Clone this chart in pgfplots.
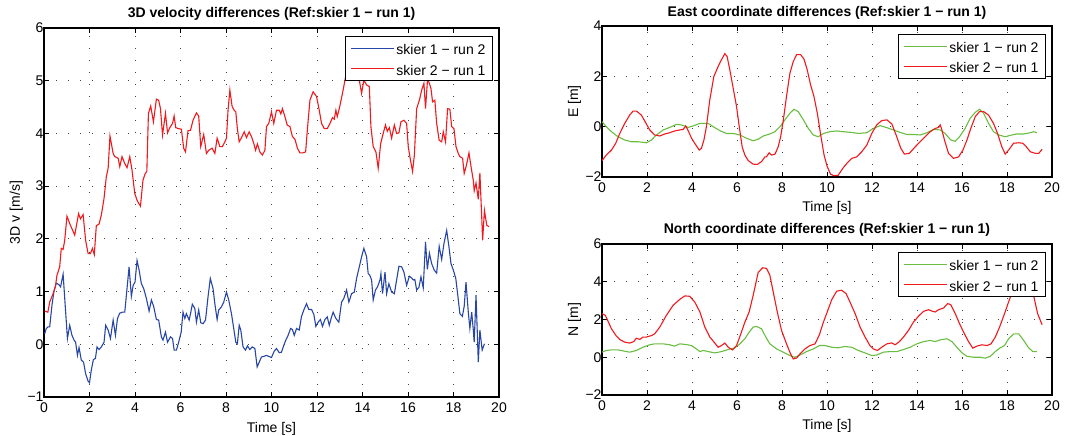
\documentclass[border=0pt]{standalone}
\usepackage{pgfplots}
\pgfplotsset{compat=1.18}
\usepackage{fontspec}
\setmainfont{Liberation Sans}
\definecolor{mblue}{RGB}{40,70,165}
\definecolor{mred}{RGB}{240,25,30}
\definecolor{mgreen}{RGB}{105,190,65}
\newcommand{\lstrut}{\rule[-5pt]{0pt}{19pt}}
\pgfplotsset{
  mstyle/.style={
    scale only axis,
    xmin=0, xmax=20,
    xtick={0,2,...,20},
    tick align=inside,
    tick pos=both,
    major tick length=5pt,
    minor tick num=0,
    /pgf/number format/assume math mode=true,
    axis line style={line width=1.2pt},
    every tick/.style={black, line width=0.8pt},
    grid=major,
    major grid style={black!75, line width=0.8pt, dash pattern=on 1pt off 11pt},
    xticklabel style={yshift=-2.5pt},
    yticklabel style={xshift=3pt},
    title style={at={(0.5,1)}, anchor=base, font=\fontsize{14}{16}\selectfont\bfseries},
    xlabel style={at={(0.5,0)}, anchor=base, yshift=-35pt},
    ylabel style={at={([xshift=-24pt]axis description cs:0,0.5)}, anchor=base, rotate=0},
    xlabel={Time [s]},
    legend style={at={(1,1)}, anchor=north east, xshift=-6pt, yshift=-8pt, draw=black, fill=white, line width=1pt, inner xsep=5pt, inner ysep=2pt, row sep=1pt, cells={anchor=west}, font=\fontsize{14}{16}\selectfont},
    legend image code/.code={\draw[#1, line width=1pt] (0pt,0pt) -- (43pt,0pt);},
    every axis plot/.append style={line width=1.1pt, mark=none},
  }
}
\begin{document}
\begin{tikzpicture}[font=\fontsize{14}{16}\selectfont]
\path[use as bounding box] (0,0) rectangle (1092pt,436pt);
% ---------------- Left: 3D velocity ----------------
\begin{axis}[mstyle, at={(44pt,39pt)}, anchor=south west, width=455pt, height=369pt,
  ymin=-1, ymax=6, ytick={-1,0,1,2,3,4,5,6}, yticklabels={−1,0,1,2,3,4,5,6},
  title={3D velocity differences (Ref:skier 1 − run 1)}, title style={yshift=5pt},
  ylabel={3D v [m/s]}]
\addplot[color=mblue] coordinates {
(0.03,0.2)(0.1,0.3)(0.18,0.33)(0.25,0.33)(0.35,0.74)(0.44,1.01)(0.54,1.16)(0.66,1.13)(0.73,1.09)(0.84,1.33)
(1.03,0.11)(1.13,0.36)(1.23,0.17)(1.32,0.08)(1.39,0.04)(1.47,-0.21)(1.54,-0.06)(1.64,-0.3)(1.74,-0.34)(1.83,-0.56)
(1.94,-0.7)(2.0,-0.73)(2.08,-0.49)(2.17,-0.29)(2.26,-0.27)(2.33,-0.05)(2.42,-0.1)(2.52,-0.05)(2.64,0.04)(2.71,0.36)
(2.82,0.27)(2.92,0.11)(3.04,0.46)(3.14,0.17)(3.23,0.49)(3.33,0.59)(3.45,0.61)(3.55,0.61)(3.65,1.06)(3.74,1.47)
(3.84,0.91)(3.92,1.12)(4.0,1.18)(4.09,1.59)(4.18,1.41)(4.28,1.15)(4.38,1.06)(4.5,0.87)(4.62,0.63)(4.72,0.84)
(4.82,0.72)(4.94,0.47)(5.04,0.46)(5.16,0.14)(5.23,0.08)(5.34,0.23)(5.43,0.04)(5.56,0.14)(5.65,0.11)(5.72,-0.11)
(5.82,-0.11)(5.92,0.04)(6.03,0.23)(6.11,0.61)(6.19,0.49)(6.26,0.58)(6.38,0.46)(6.44,0.58)(6.52,0.76)(6.63,0.68)
(6.7,0.42)(6.8,0.65)(6.89,0.41)(6.99,0.39)(7.1,0.46)(7.21,0.9)(7.31,1.25)(7.43,1.06)(7.51,0.77)(7.61,0.47)
(7.68,0.65)(7.8,0.71)(7.9,0.8)(8.02,0.99)(8.12,0.84)(8.24,0.58)(8.34,0.3)(8.43,0.04)(8.5,0.01)(8.58,0.36)
(8.65,0.27)(8.75,-0.05)(8.86,-0.11)(8.94,-0.03)(9.05,-0.1)(9.15,-0.05)(9.27,-0.08)(9.37,-0.43)(9.46,-0.34)(9.56,-0.24)
(9.66,-0.23)(9.78,-0.21)(9.88,-0.23)(10.0,-0.25)(10.12,-0.13)(10.22,-0.08)(10.34,-0.16)(10.44,-0.15)(10.54,-0.02)(10.63,0.08)
(10.73,0.17)(10.84,0.3)(10.92,0.28)(11.0,0.17)(11.1,0.3)(11.22,0.27)(11.32,0.53)(11.42,0.65)(11.54,0.77)(11.64,0.66)
(11.76,0.66)(11.86,0.57)(11.95,0.34)(12.05,0.42)(12.15,0.47)(12.24,0.34)(12.35,0.47)(12.45,0.52)(12.54,0.36)(12.64,0.52)
(12.71,0.61)(12.83,0.49)(12.96,0.42)(13.08,0.8)(13.18,0.87)(13.3,1.03)(13.4,0.8)(13.52,0.96)(13.64,0.99)(13.74,1.25)
(13.86,1.47)(13.96,1.66)(14.06,1.82)(14.18,1.66)(14.25,1.34)(14.32,1.31)(14.4,1.22)(14.47,0.84)(14.57,1.03)(14.66,1.09)
(14.77,1.22)(14.81,1.34)(14.88,0.96)(14.99,1.37)(15.06,0.96)(15.16,1.15)(15.28,0.99)(15.4,0.96)(15.5,1.22)(15.6,1.48)
(15.72,1.47)(15.82,1.37)(15.94,1.12)(16.06,1.29)(16.16,1.26)(16.23,1.22)(16.3,1.23)(16.38,1.03)(16.48,1.08)(16.57,1.28)
(16.67,1.07)(16.77,1.94)(16.85,1.42)(16.94,1.73)(17.04,1.53)(17.15,1.41)(17.26,1.35)(17.37,1.86)(17.48,1.61)(17.58,1.91)
(17.7,2.16)(17.8,1.85)(17.89,1.53)(17.99,1.41)(18.1,1.25)(18.18,0.96)(18.28,0.58)(18.39,0.53)(18.47,0.72)(18.55,1.18)
(18.65,0.61)(18.72,0.3)(18.8,0.61)(18.87,0.27)(18.91,0.04)(18.99,0.93)(19.09,-0.34)(19.16,0.27)(19.26,-0.11)(19.36,0.01)
};
\addlegendentry{skier 1 − run 2\lstrut}
\addplot[color=mred] coordinates {
(0.03,0.63)(0.17,0.61)(0.25,0.8)(0.4,0.96)(0.5,1.09)(0.57,1.31)(0.69,1.47)(0.76,1.82)(0.84,1.8)(0.91,1.97)
(1.01,2.43)(1.13,2.29)(1.35,2.07)(1.52,2.48)(1.6,2.38)(1.72,2.46)(1.83,1.97)(1.94,1.72)(2.04,1.72)(2.13,1.82)
(2.21,1.7)(2.3,2.25)(2.42,2.28)(2.52,2.45)(2.64,2.77)(2.74,3.18)(2.82,3.34)(2.9,3.95)(3.04,3.62)(3.11,3.56)
(3.26,3.53)(3.33,3.37)(3.43,3.56)(3.55,3.43)(3.65,3.35)(3.77,3.56)(3.87,3.3)(3.99,2.86)(4.09,2.73)(4.24,2.62)
(4.35,3.11)(4.44,3.23)(4.52,3.28)(4.59,4.38)(4.69,4.52)(4.81,4.22)(4.94,4.65)(5.04,4.63)(5.12,4.47)(5.21,3.97)
(5.34,4.38)(5.43,4.01)(5.53,4.11)(5.65,4.19)(5.72,4.33)(5.79,4.11)(5.92,4.09)(6.04,4.08)(6.14,3.72)(6.22,3.65)
(6.33,4.05)(6.44,4.06)(6.55,4.25)(6.7,4.39)(6.8,4.33)(6.89,3.75)(7.02,3.98)(7.14,3.62)(7.24,3.68)(7.39,3.72)
(7.51,3.62)(7.61,3.91)(7.73,3.75)(7.84,3.75)(7.95,3.84)(8.02,3.91)(8.09,4.44)(8.17,4.82)(8.27,4.51)(8.36,4.44)
(8.43,4.41)(8.5,4.09)(8.58,3.84)(8.68,3.92)(8.8,4.03)(8.9,3.92)(9.02,4.03)(9.12,3.94)(9.22,3.81)(9.3,3.68)
(9.38,3.8)(9.49,3.65)(9.6,3.59)(9.71,3.68)(9.78,4.13)(9.88,4.19)(10.0,4.41)(10.1,4.19)(10.22,4.44)(10.34,4.44)
(10.41,4.37)(10.48,4.47)(10.59,4.32)(10.69,4.16)(10.81,4.13)(10.92,3.94)(11.03,3.89)(11.14,3.72)(11.25,3.63)(11.36,3.63)
(11.5,3.65)(11.58,4.09)(11.69,4.63)(11.83,4.79)(11.98,4.7)(12.1,4.44)(12.2,4.19)(12.32,4.09)(12.45,4.09)(12.57,4.19)
(12.68,4.3)(12.76,4.27)(12.83,4.44)(12.89,4.32)(13.0,4.51)(13.12,4.76)(13.23,5.01)(13.35,5.3)(13.5,5.5)(13.65,5.4)
(13.78,5.2)(13.86,5.01)(13.96,4.76)(14.06,5.01)(14.18,4.92)(14.3,4.89)(14.37,4.13)(14.47,3.75)(14.59,3.65)(14.69,3.34)
(14.8,3.81)(14.91,4.0)(15.01,4.16)(15.09,4.04)(15.18,4.11)(15.28,3.91)(15.4,4.16)(15.5,4.0)(15.6,4.01)(15.69,4.22)
(15.82,4.25)(15.94,4.19)(16.01,3.75)(16.11,3.49)(16.2,3.28)(16.28,3.59)(16.38,4.47)(16.5,4.63)(16.6,4.82)(16.7,4.95)
(16.77,4.47)(16.86,5.03)(16.94,4.95)(17.01,4.85)(17.08,4.6)(17.18,4.63)(17.26,4.19)(17.37,3.87)(17.48,3.84)(17.55,4.03)
(17.65,3.84)(17.74,4.47)(17.84,4.46)(17.92,4.13)(18.02,4.09)(18.11,3.75)(18.21,3.62)(18.28,3.56)(18.4,3.53)(18.47,3.24)
(18.57,3.4)(18.68,3.63)(18.77,3.37)(18.87,3.11)(18.91,2.91)(18.99,3.06)(19.09,2.75)(19.16,3.25)(19.24,2.42)(19.28,1.97)
(19.36,2.54)(19.46,2.26)(19.56,2.23)
};
\addlegendentry{skier 2 − run 1\lstrut}
\end{axis}
% ---------------- Top right: East ----------------
\begin{axis}[mstyle, at={(602pt,259pt)}, anchor=south west, width=450pt, height=151pt,
  ymin=-2, ymax=4, ytick={-2,0,2,4}, yticklabels={−2,0,2,4},
  title={East coordinate differences (Ref:skier 1 − run 1)}, title style={yshift=3pt},
  ylabel={E [m]}]
\addplot[color=mgreen] coordinates {
(0,0.2)(0.19,0)(0.42,-0.2)(0.71,-0.4)(1.01,-0.53)(1.31,-0.6)(1.6,-0.6)(1.97,-0.64)(2.2,-0.53)(2.42,-0.33)
(2.72,-0.13)(3.01,-0.03)(3.31,0.09)(3.53,0.07)(3.83,-0.03)(4.05,0.03)(4.35,0.13)(4.72,0.13)(4.94,0)(5.24,-0.16)
(5.53,-0.27)(5.83,-0.27)(6.13,-0.33)(6.42,-0.46)(6.72,-0.56)(6.94,-0.5)(7.17,-0.37)(7.46,-0.29)(7.69,-0.2)(7.91,0)
(8.13,0.27)(8.35,0.53)(8.53,0.69)(8.72,0.6)(8.95,0.27)(9.17,-0.07)(9.39,-0.33)(9.61,-0.4)(9.84,-0.27)(10.13,-0.2)
(10.43,-0.17)(10.73,-0.2)(11.1,-0.23)(11.39,-0.27)(11.77,-0.24)(12.06,-0.07)(12.36,0.04)(12.66,-0.04)(12.95,-0.13)(13.25,-0.23)
(13.55,-0.31)(13.84,-0.31)(14.14,-0.33)(14.44,-0.24)(14.73,-0.11)(15.03,-0.13)(15.25,-0.27)(15.5,-0.53)(15.7,-0.58)(15.89,-0.4)
(16.14,-0.07)(16.36,0.33)(16.59,0.57)(16.78,0.69)(16.96,0.53)(17.18,0.13)(17.4,-0.2)(17.63,-0.33)(17.92,-0.4)(18.22,-0.33)
(18.44,-0.29)(18.74,-0.29)(19.04,-0.24)(19.18,-0.2)(19.33,-0.24)
};
\addlegendentry{skier 1 − run 2\lstrut}
\addplot[color=mred] coordinates {
(0,-1.35)(0.19,-1.13)(0.42,-0.93)(0.61,-0.66)(0.79,-0.27)(1.01,0.13)(1.23,0.46)(1.38,0.62)(1.53,0.62)(1.75,0.46)
(1.94,0.16)(2.12,-0.13)(2.34,-0.33)(2.57,-0.37)(2.79,-0.29)(3.01,-0.24)(3.23,-0.17)(3.46,-0.13)(3.61,-0.11)(3.72,0.03)
(3.83,-0.16)(3.98,-0.46)(4.12,-0.66)(4.32,-0.93)(4.42,-0.86)(4.53,-0.53)(4.64,0)(4.79,1.06)(4.97,1.99)(5.16,2.39)
(5.31,2.66)(5.46,2.9)(5.56,2.79)(5.68,2.26)(5.83,1.53)(5.98,0.8)(6.1,0)(6.23,-0.8)(6.35,-1.13)(6.5,-1.35)
(6.72,-1.49)(6.9,-1.5)(7.09,-1.39)(7.24,-1.2)(7.31,-1.2)(7.43,-1.04)(7.54,-1.13)(7.69,-1.09)(7.83,-0.8)(7.94,-0.4)
(8.06,0.27)(8.2,1.2)(8.35,2.12)(8.5,2.59)(8.65,2.86)(8.83,2.86)(8.98,2.68)(9.12,2.26)(9.27,1.66)(9.42,1.2)
(9.57,0.53)(9.72,-0.33)(9.87,-1.13)(10.01,-1.59)(10.16,-1.89)(10.31,-1.95)(10.5,-1.93)(10.7,-1.66)(10.88,-1.46)(11.1,-1.26)
(11.32,-1.2)(11.54,-1.0)(11.77,-0.73)(11.99,-0.27)(12.21,0.07)(12.43,0.24)(12.66,0.27)(12.88,0.11)(13.07,-0.33)(13.28,-0.86)
(13.44,-1.09)(13.66,-1.06)(13.92,-0.8)(14.14,-0.6)(14.36,-0.4)(14.59,-0.2)(14.81,-0.07)(14.96,-0.03)(15.03,0.07)(15.1,-0.11)
(15.22,-0.53)(15.4,-1.06)(15.62,-1.26)(15.85,-1.2)(16.04,-0.93)(16.22,-0.53)(16.39,-0.07)(16.59,0.4)(16.78,0.6)(16.96,0.6)
(17.18,0.46)(17.4,0.13)(17.58,-0.27)(17.77,-0.8)(17.92,-1.09)(18.07,-0.93)(18.29,-0.66)(18.52,-0.64)(18.71,-0.66)(18.86,-0.8)
(19.04,-1.0)(19.26,-1.06)(19.41,-1.06)(19.56,-0.9)
};
\addlegendentry{skier 2 − run 1\lstrut}
\end{axis}
% ---------------- Bottom right: North ----------------
\begin{axis}[mstyle, at={(602pt,41pt)}, anchor=south west, width=450pt, height=151pt,
  ymin=-2, ymax=6, ytick={-2,0,2,4,6}, yticklabels={−2,0,2,4,6},
  title={North coordinate differences (Ref:skier 1 − run 1)}, title style={yshift=5pt},
  ylabel={N [m]}]
\addplot[color=mgreen] coordinates {
(0,0.27)(0.19,0.36)(0.42,0.39)(0.71,0.39)(1.01,0.32)(1.23,0.27)(1.53,0.36)(1.82,0.53)(2.12,0.66)(2.34,0.71)
(2.72,0.71)(3.01,0.66)(3.23,0.59)(3.46,0.71)(3.75,0.67)(3.98,0.62)(4.2,0.44)(4.35,0.3)(4.5,0.36)(4.72,0.3)
(5.01,0.23)(5.31,0.3)(5.61,0.41)(5.9,0.5)(6.13,0.71)(6.35,0.98)(6.54,1.33)(6.72,1.6)(6.87,1.63)(7.09,1.51)
(7.28,1.07)(7.46,0.71)(7.76,0.44)(8.05,0.27)(8.35,0.09)(8.57,0)(8.8,0.12)(9.09,0.3)(9.39,0.44)(9.66,0.62)
(9.91,0.62)(10.21,0.53)(10.5,0.5)(10.8,0.57)(11.1,0.53)(11.39,0.36)(11.69,0.23)(11.99,0.09)(12.21,0.12)(12.51,0.27)
(12.8,0.3)(13.1,0.3)(13.4,0.41)(13.69,0.53)(13.99,0.71)(14.29,0.83)(14.58,0.89)(14.81,0.83)(15.03,0.92)(15.33,0.98)
(15.55,0.83)(15.77,0.53)(16.0,0.23)(16.22,0.05)(16.51,0)(16.81,0)(17.03,-0.05)(17.26,0.05)(17.48,0.3)(17.67,0.48)
(17.89,0.62)(18.07,0.98)(18.3,1.24)(18.52,1.24)(18.74,0.89)(18.96,0.5)(19.15,0.3)(19.33,0.3)
};
\addlegendentry{skier 1 − run 2\lstrut}
\addplot[color=mred] coordinates {
(0,2.31)(0.15,2.22)(0.27,1.9)(0.42,1.51)(0.64,1.12)(0.79,0.94)(1.01,0.8)(1.23,0.75)(1.41,0.83)(1.53,1.01)
(1.68,0.94)(1.82,1.07)(1.97,1.07)(2.2,1.15)(2.34,1.24)(2.57,1.6)(2.86,2.22)(3.16,2.75)(3.46,3.07)(3.68,3.25)
(3.9,3.23)(4.12,2.93)(4.35,2.4)(4.57,1.6)(4.79,1.07)(5.01,0.76)(5.16,0.53)(5.31,0.62)(5.46,0.75)(5.61,0.53)
(5.8,0.39)(5.98,0.62)(6.17,1.24)(6.35,1.86)(6.54,2.4)(6.72,3.29)(6.94,4.49)(7.14,4.74)(7.31,4.71)(7.46,4.35)
(7.61,3.46)(7.79,2.4)(7.98,1.42)(8.2,0.71)(8.38,0.18)(8.5,-0.09)(8.65,-0.04)(8.8,0.18)(9.02,0.44)(9.24,0.62)
(9.47,0.71)(9.66,1.19)(9.84,1.86)(10.01,2.4)(10.21,3.05)(10.43,3.5)(10.65,3.55)(10.85,3.37)(11.02,2.93)(11.25,2.31)
(11.47,1.6)(11.69,1.07)(11.91,0.62)(12.06,0.44)(12.24,0.36)(12.43,0.53)(12.66,0.71)(12.88,0.76)(13.03,0.66)(13.22,0.83)
(13.4,1.07)(13.62,1.42)(13.84,1.86)(14.07,2.18)(14.29,2.43)(14.51,2.52)(14.7,2.43)(14.81,2.4)(14.96,2.52)(15.18,2.61)
(15.36,2.84)(15.5,2.79)(15.7,2.31)(15.89,1.78)(16.07,1.33)(16.29,0.83)(16.48,0.48)(16.66,0.59)(16.88,0.66)(17.11,0.62)
(17.29,0.71)(17.48,1.07)(17.67,1.6)(17.89,2.31)(18.07,2.93)(18.26,3.55)(18.5,4.1)(18.75,4.3)(19.0,3.9)(19.18,3.28)
(19.36,2.31)(19.56,1.72)
};
\addlegendentry{skier 2 − run 1\lstrut}
\end{axis}
\end{tikzpicture}
\end{document}
